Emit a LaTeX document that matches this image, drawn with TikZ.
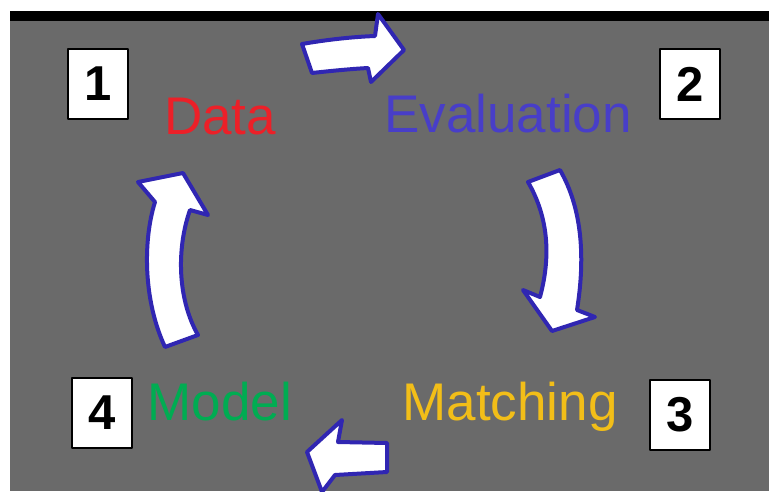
\documentclass[tikz,border=0pt]{standalone}
\usepackage{fontspec}
\setmainfont{Liberation Sans}
\definecolor{bgray}{RGB}{106,106,106}
\definecolor{arrblue}{RGB}{48,38,178}
\definecolor{datared}{RGB}{236,32,40}
\definecolor{evalblue}{RGB}{72,62,200}
\definecolor{matchyel}{RGB}{242,190,24}
\definecolor{modelgreen}{RGB}{0,172,82}
\begin{document}
\begin{tikzpicture}[x=1pt, y=-1pt, line join=round]
    \tikzstyle{num}=[draw, fill=white, line width=1.2pt, minimum width=60pt, minimum height=70pt, inner sep=0pt, font=\fontsize{49}{49}\selectfont\bfseries]
    \tikzstyle{lbl}=[anchor=base, inner sep=0pt, font=\fontsize{53}{60}\selectfont]
    \tikzstyle{blk}=[draw=arrblue, fill=white, line width=4pt]

    % frame
    \useasboundingbox (0,0) rectangle (769,491);
    \fill[white] (0,0) rectangle (769,491);
    \fill[black] (10,11) rectangle (769,21);
    \fill[bgray] (10,21) rectangle (769,491);

    % step numbers
    \node[num] (n1) at (98,84) {1};
    \node[num] (n2) at (690,84) {2};
    \node[num] (n3) at (680,415) {3};
    \node[num] (n4) at (102,413) {4};

    % labels
    \node[lbl, text=datared] (data) at (220,134) {Data};
    \node[lbl, text=evalblue] (eval) at (508,132) {Evaluation};
    \node[lbl, text=matchyel] (match) at (510,420) {Matching};
    \node[lbl, text=modelgreen] (model) at (220,420) {Model};

    % block arrows
    \draw[blk] (302,44) .. controls (325,40) and (350,37) .. (375,36) -- (378,14) -- (404,50) -- (371,82) -- (368,68)
        .. controls (350,69) and (330,71) .. (312,73) -- cycle;
    \draw[blk] (560,170) .. controls (583,210) and (585,260) .. (577,310) -- (595,317) -- (552,331) -- (523,290) -- (540,297)
        .. controls (550,260) and (550,220) .. (528,182) -- cycle;
    \draw[blk] (387,443) -- (338,442) -- (342,420) -- (307,452) -- (322,492) -- (335,475) -- (387,472) -- cycle;
    \draw[blk] (165,347) -- (198,335) .. controls (178,300) and (176,250) .. (190,210) -- (208,215) -- (183,173) -- (138,182) -- (155,202)
        .. controls (143,240) and (143,300) .. (165,347) -- cycle;
\end{tikzpicture}
\end{document}
